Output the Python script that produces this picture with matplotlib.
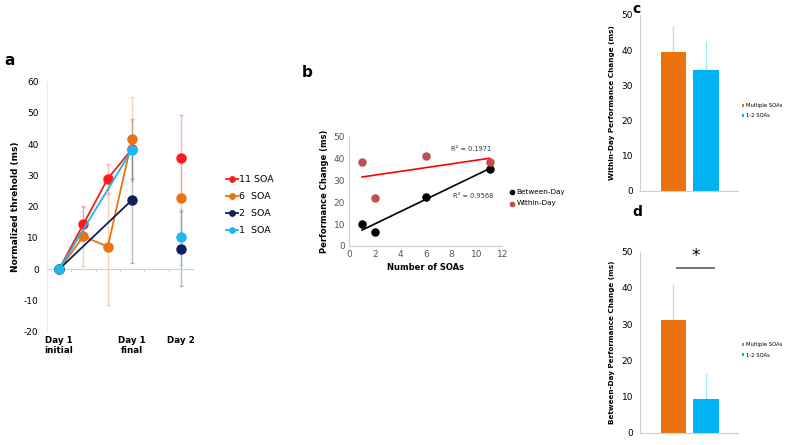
import numpy as np
import matplotlib.pyplot as plt

plt.rcParams['axes.unicode_minus'] = False

# ---- panel a data ----
stage_labels = ['Day 1\ninitial', 'Day 1\nfinal', 'Day 2']
stage_pos = [0, 3, 5]
soa11_x = [0, 1, 2, 3]
soa11_y = [0, 14.5, 29.0, 38.5]
soa11_err = [0, 5.6, 4.8, 9.5]
soa6_x = [0, 1, 2, 3]
soa6_y = [0, 10.5, 7.2, 41.7]
soa6_err = [0, 9.5, 18.5, 13.4]
soa2_x = [0, 3]
soa2_y = [0, 22.2]
soa2_err = [0, 20.2]
soa1_x = [0, 3]
soa1_y = [0, 38.3]
soa1_err = [0, 9.0]
day2_y = [35.5, 22.7, 6.5, 10.2]      # 11, 6, 2, 1 SOA
day2_err = [13.8, 13.0, 12.0, 9.0]

# ---- panel b data ----
n_soas = [1, 2, 6, 11]
between_day = [10.0, 6.5, 22.5, 35.3]
within_day = [38.3, 22.0, 41.5, 38.5]

# ---- panels c/d data ----
groups = ['Multiple SOAs', '1-2 SOAs']
within_mean = [39.6, 34.4]
within_err = [7.4, 8.1]
between_mean = [31.2, 9.3]
between_err = [9.8, 7.2]

RED = '#ff1a1a'
ORANGE = '#e8730f'
NAVY = '#0f1f5c'
CYAN = '#1ab8ee'
BAR_OR = '#ec7210'
BAR_CY = '#00b4f4'
SPINE = '#d0d0d0'

fig = plt.figure(figsize=(7.87, 4.45), dpi=100)

# ================= panel a =================
ax = fig.add_axes([0.0597, 0.2546, 0.1855, 0.5618])
series = [('11 SOA', soa11_x, soa11_y, soa11_err, RED),
          ('6  SOA', soa6_x, soa6_y, soa6_err, ORANGE),
          ('2  SOA', soa2_x, soa2_y, soa2_err, NAVY),
          ('1  SOA', soa1_x, soa1_y, soa1_err, CYAN)]
handles = []
for i, (lab, xs, ys, es, c) in enumerate(series):
    ax.errorbar(xs, ys, yerr=es, fmt='none', ecolor=c, alpha=0.3,
                elinewidth=1, capsize=1.5, zorder=1)
    ax.errorbar([5], [day2_y[i]], yerr=[day2_err[i]], fmt='none', ecolor=c,
                alpha=0.3, elinewidth=1, capsize=1.5, zorder=1)
    h, = ax.plot(xs, ys, '-o', color=c, lw=1.3, ms=6.5, zorder=3, label=lab)
    ax.plot([5], [day2_y[i]], 'o', color=c, ms=6.5, zorder=3)
    handles.append(h)
ax.set_xlim(-0.5, 5.5)
ax.set_ylim(-20, 60)
ax.set_yticks(range(-20, 61, 10))
ax.set_xticks([0.5, 1.5, 2.5, 3.5, 4.5])
ax.set_xticklabels([])
ax.tick_params(axis='x', length=2, color=SPINE)
ax.tick_params(axis='y', labelsize=6.5, length=0, pad=6)
ax.spines['bottom'].set_position(('data', 0))
for s in ['top', 'right']:
    ax.spines[s].set_visible(False)
ax.spines['left'].set_color('#ebebeb')
ax.spines['bottom'].set_color(SPINE)
ax.set_ylabel('Normalized threhold (ms)', fontsize=6.5, fontweight='bold', labelpad=3)
for p, t in zip(stage_pos, stage_labels):
    ax.text(p, -21.5, t, ha='center', va='top', fontsize=6.3, fontweight='bold',
            linespacing=1.15)
fig.legend(handles=handles, loc='upper left', bbox_to_anchor=(0.276, 0.625),
           frameon=False, fontsize=6.8, handlelength=1.3, handletextpad=0.1,
           markerscale=0.6, labelspacing=0.85)
fig.text(0.006, 0.855, 'a', fontsize=11, fontweight='bold')

# ================= panel b =================
bx = fig.add_axes([0.4438, 0.4472, 0.1944, 0.245])
bx.scatter(n_soas, between_day, s=26, color='black', zorder=3, label='Between-Day')
bx.scatter(n_soas, within_day, s=26, color='#c0504d', zorder=3, label='Within-Day')
xfit = np.array([min(n_soas), max(n_soas)])
kb = np.polyfit(n_soas, between_day, 1)
kw = np.polyfit(n_soas, within_day, 1)
bx.plot(xfit, np.polyval(kb, xfit), color='black', lw=1.2, zorder=2)
bx.plot(xfit, np.polyval(kw, xfit), color='#ff0000', lw=1.2, zorder=2)
bx.text(8.0, 44.5, 'R² = 0.1971', fontsize=4.8, color='#333333', va='center')
bx.text(8.15, 23.0, 'R² = 0.9568', fontsize=4.8, color='#333333', va='center')
bx.set_xlim(0, 12)
bx.set_ylim(0, 50)
bx.set_xticks(range(0, 13, 2))
bx.set_yticks(range(0, 51, 10))
bx.tick_params(labelsize=6.5, labelcolor='#555555', length=0, pad=3)
for s in ['top', 'right']:
    bx.spines[s].set_visible(False)
for s in ['left', 'bottom']:
    bx.spines[s].set_color(SPINE)
bx.set_xlabel('Number of SOAs', fontsize=6, fontweight='bold', labelpad=3)
bx.set_ylabel('Performance Change (ms)', fontsize=6, fontweight='bold', labelpad=3)
bx.legend(loc='upper left', bbox_to_anchor=(1.0, 0.58), frameon=False,
          fontsize=5.2, handletextpad=0.1, markerscale=0.6, labelspacing=0.7,
          handlelength=1.0)
fig.text(0.383, 0.828, 'b', fontsize=11, fontweight='bold')

# ================= panels c / d =================
def bar_panel(rect, means, errs, ylabel, letter, ly, sig=False):
    cx = fig.add_axes(rect)
    xs = np.arange(len(means))
    cols = [BAR_OR, BAR_CY]
    for x, m, e, c, g in zip(xs, means, errs, cols, groups):
        cx.bar(x, m, width=0.78, color=c, label=g, zorder=2)
        cx.errorbar(x, m, yerr=[[0], [e]], fmt='none', ecolor=c, alpha=0.35,
                    elinewidth=1, capsize=0, zorder=1)
    cx.set_xlim(-1.02, 1.98)
    cx.set_ylim(0, 50)
    cx.set_yticks(range(0, 51, 10))
    cx.set_xticks([])
    cx.tick_params(labelsize=6.5, length=0, pad=5)
    for s in ['top', 'right']:
        cx.spines[s].set_visible(False)
    for s in ['left', 'bottom']:
        cx.spines[s].set_color(SPINE)
    cx.set_ylabel(ylabel, fontsize=5.2, fontweight='bold', labelpad=5)
    cx.legend(loc='upper left', bbox_to_anchor=(1.0, 0.52), frameon=False,
              fontsize=3.8, handlelength=0.5, handleheight=0.5,
              handletextpad=0.3, labelspacing=1.0, borderaxespad=0.3)
    if sig:
        cx.plot([0.11, 1.25], [45.5, 45.5], color='#666666', lw=1.3)
        cx.text(0.68, 46.2, '*', ha='center', va='bottom', fontsize=12)
    fig.text(0.804, ly, letter, fontsize=10, fontweight='bold')
    return cx

bar_panel([0.8132, 0.5715, 0.1245, 0.3948], within_mean, within_err,
          'Within-Day Performance Change (ms)', 'c', 0.97)
bar_panel([0.8132, 0.0276, 0.1245, 0.4067], between_mean, between_err,
          'Between-Day Performance Change (ms)', 'd', 0.515, sig=True)

fig.savefig('out.png', dpi=100)
